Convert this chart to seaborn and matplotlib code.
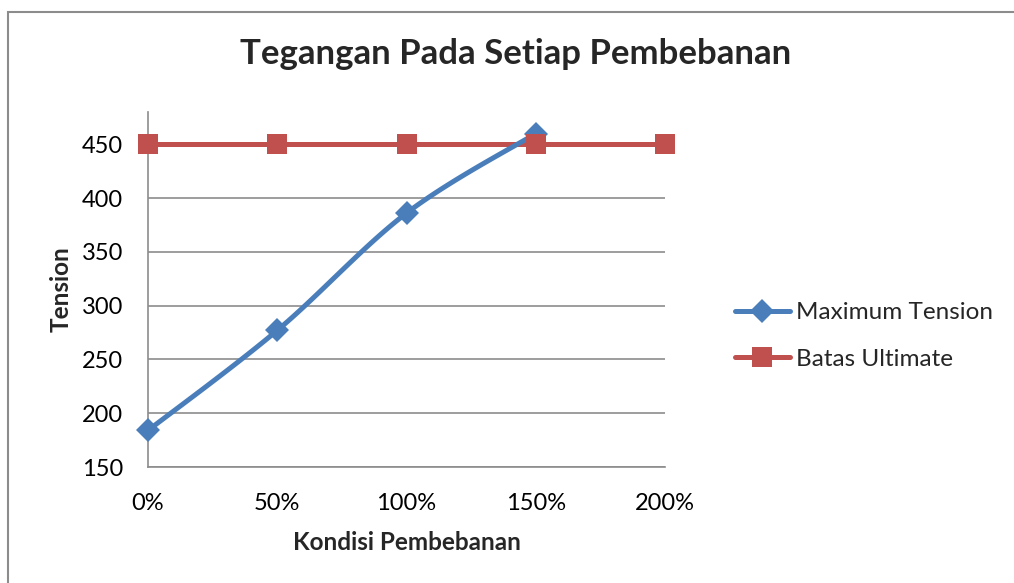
import numpy as np
import pandas as pd
import matplotlib
matplotlib.use("Agg")
import matplotlib.pyplot as plt
from matplotlib.patches import Rectangle
from matplotlib.lines import Line2D
import seaborn as sns

# Data
kondisi = ["0%", "50%", "100%", "150%", "200%"]
max_tension = [184, 277, 386, 460]          # last loading (200%) has no value
batas_ultimate = [450, 450, 450, 450, 450]

BLUE = "#4A7EBB"
RED = "#C0504D"
GRID = "#8C8C8C"

sns.set_theme(style="white")
plt.rcParams["font.family"] = ["Lato", "DejaVu Sans"]

W, H = 1014, 583
fig = plt.figure(figsize=(W / 100, H / 100), dpi=100)
ax = fig.add_axes([148 / W, 116 / H, (665 - 148) / W, (467 - 112) / H])

x_max = np.arange(len(max_tension))
x_bat = np.arange(len(batas_ultimate))


def smooth_curve(x, y, steps=40):
    """Catmull-Rom style smoothing between the data points."""
    x = np.asarray(x, float)
    y = np.asarray(y, float)
    px = np.concatenate([[x[0]], x, [x[-1]]])
    py = np.concatenate([[y[0]], y, [y[-1]]])
    xs, ys = [], []
    for i in range(1, len(px) - 2):
        p0 = np.array([px[i], py[i]])
        p3 = np.array([px[i + 1], py[i + 1]])
        c1 = p0 + (np.array([px[i + 1], py[i + 1]]) - np.array([px[i - 1], py[i - 1]])) / 6
        c2 = p3 - (np.array([px[i + 2], py[i + 2]]) - np.array([px[i], py[i]])) / 6
        t = np.linspace(0, 1, steps)[:, None]
        pts = ((1 - t) ** 3) * p0 + 3 * ((1 - t) ** 2) * t * c1 + 3 * (1 - t) * t ** 2 * c2 + t ** 3 * p3
        xs.extend(pts[:, 0])
        ys.extend(pts[:, 1])
    return np.array(xs), np.array(ys)


sx, sy = smooth_curve(x_max, max_tension)
curve = pd.DataFrame({"x": sx, "y": sy})
bat_df = pd.DataFrame({"x": x_bat, "y": batas_ultimate})

LW = 3.6
D_SIZE = 12
S_SIZE = 15

# Batas Ultimate line
sns.lineplot(data=bat_df, x="x", y="y", ax=ax, color=RED, lw=LW,
             clip_on=False, zorder=3, sort=False, legend=False)
# Maximum Tension smoothed line with diamond markers
sns.lineplot(data=curve, x="x", y="y", ax=ax, color=BLUE, lw=LW, clip_on=False,
             zorder=4, sort=False, legend=False)
ax.plot(x_max, max_tension, ls="none", marker="D", markersize=D_SIZE, color=BLUE,
        markeredgewidth=0, clip_on=False, zorder=4)
# red square markers drawn on top of the blue curve
ax.plot(x_bat, batas_ultimate, ls="none", marker="s", markersize=S_SIZE, color=RED,
        markeredgewidth=0, clip_on=False, zorder=5)

ax.set_xlim(0, 4)
ax.set_ylim(150, 480)
ax.set_xticks(x_bat)
ax.set_xticklabels(kondisi)
ax.set_yticks([150, 200, 250, 300, 350, 400, 450])
ax.tick_params(axis="both", labelsize=17, length=0, colors="black")
ax.tick_params(axis="x", pad=19)
ax.tick_params(axis="y", pad=18)
ax.yaxis.grid(True, color=GRID, lw=1.2)
ax.xaxis.grid(False)
for s in ["top", "right"]:
    ax.spines[s].set_visible(False)
for s in ["left", "bottom"]:
    ax.spines[s].set_color(GRID)
    ax.spines[s].set_linewidth(1.2)

ax.set_xlabel("Kondisi Pembebanan", fontsize=17.5, fontweight="bold", va="center")
ax.set_ylabel("Tension", fontsize=17.5, fontweight="bold", va="center")
ax.xaxis.set_label_coords(407 / W, 1 - 542 / H, transform=fig.transFigure)
ax.yaxis.set_label_coords(61 / W, 1 - 289 / H, transform=fig.transFigure)

fig.text(516 / W, 1 - 64 / H, "Tegangan Pada Setiap Pembebanan", ha="center",
         va="baseline", fontsize=25, fontweight="bold")

# Legend
handles = [
    Line2D([], [], color=BLUE, lw=LW, marker="D", markersize=D_SIZE, markeredgewidth=0),
    Line2D([], [], color=RED, lw=LW, marker="s", markersize=S_SIZE, markeredgewidth=0),
]
fig.legend(handles, ["Maximum Tension", "Batas Ultimate"], loc="center left",
           bbox_to_anchor=(735 / W, 1 - 336 / H), frameon=False, fontsize=17.5,
           handlelength=2.26, handletextpad=0.25, labelspacing=1.05,
           borderpad=0, borderaxespad=0)

# Outer chart border
fig.patches.append(Rectangle((8 / W, -0.1), 1.2, 1 - 12 / H + 0.1,
                             transform=fig.transFigure, fill=False,
                             edgecolor="#8C8C8C", lw=1.5))

fig.savefig("out.png", dpi=100)
